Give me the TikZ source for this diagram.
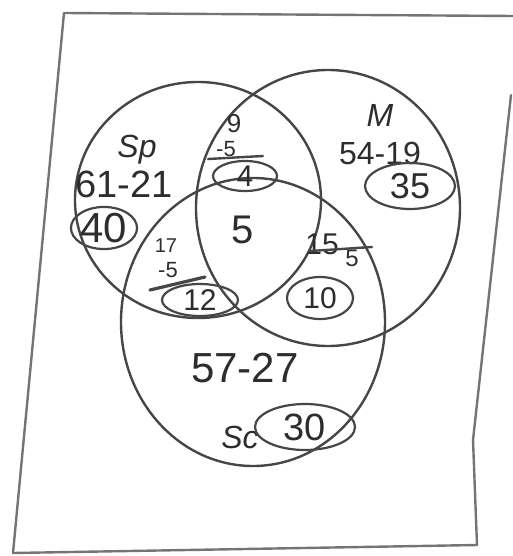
\documentclass[tikz,border=0pt]{standalone}
\usepackage{fontspec}
\setmainfont{Liberation Sans}
\usetikzlibrary{shapes.geometric}
\definecolor{pencil}{RGB}{70,70,70}
\definecolor{lead}{RGB}{45,45,45}
\begin{document}
\begin{tikzpicture}[x=1pt,y=-1pt,
  stroke/.style={draw=pencil, line width=2.4pt, line cap=round, line join=round},
  setring/.style={stroke, ellipse, inner sep=0pt},
  ring/.style={stroke, ellipse, inner sep=0pt, line width=2.2pt, text=lead},
  lbl/.style={text=lead, inner sep=0pt}]
\useasboundingbox (0,0) rectangle (513,556);
% frame
\coordinate (f1) at (64,13);
\coordinate (f2) at (513,16);
\coordinate (f3) at (511,95);
\coordinate (f4) at (473,440);
\coordinate (f5) at (477,545);
\coordinate (f6) at (13,553);
\draw[stroke, draw=pencil!75] (f3) -- (f4) -- (f5) -- (f6) -- (f1) -- (f2);
% sets
\node[setring, minimum width=246pt, minimum height=236pt] (sp) at (198,200) {};
\node[setring, minimum width=264pt, minimum height=276pt] (m) at (328,208) {};
\node[setring, minimum width=264pt, minimum height=288pt] (sc) at (253,322) {};
% Sp only
\node[lbl, font=\fontsize{32}{32}\selectfont\itshape] (spl) at (137,150) {Sp};
\node[lbl, font=\fontsize{38}{38}\selectfont] (spx) at (124,184) {61-21};
\node[ring, minimum width=58pt, minimum height=42pt, font=\fontsize{42}{42}\selectfont] (n40) at (104,228) {40};
% Sp and M
\node[lbl, font=\fontsize{26}{26}\selectfont] (n9) at (234,124) {9};
\node[lbl, font=\fontsize{22}{22}\selectfont] (m5a) at (226,149) {-5};
\coordinate (b1a) at (208,159);
\coordinate (b1b) at (263,156);
\draw[stroke] (b1a) -- (b1b);
\node[ring, minimum width=64pt, minimum height=30pt, font=\fontsize{30}{30}\selectfont] (n4) at (245,176) {4};
% all three
\node[lbl, font=\fontsize{40}{40}\selectfont] (n5) at (243,230) {5};
% M only
\node[lbl, font=\fontsize{32}{32}\selectfont\itshape] (ml) at (380,115) {M};
\node[lbl, font=\fontsize{32}{32}\selectfont] (mx) at (380,153) {54-19};
\node[ring, minimum width=90pt, minimum height=46pt, font=\fontsize{36}{36}\selectfont] (n35) at (410,186) {35};
% Sp and Sc
\node[lbl, font=\fontsize{20}{20}\selectfont] (n17) at (166,246) {17};
\node[lbl, font=\fontsize{22}{22}\selectfont] (m5b) at (168,270) {-5};
\coordinate (b2a) at (150,290);
\coordinate (b2b) at (205,277);
\draw[stroke, line width=3.2pt] (b2a) -- (b2b);
\node[ring, minimum width=76pt, minimum height=32pt, font=\fontsize{30}{30}\selectfont] (n12) at (200,300) {12};
% M and Sc
\node[lbl, font=\fontsize{30}{30}\selectfont] (n15) at (322,244) {15};
\node[lbl, font=\fontsize{24}{24}\selectfont] (m5c) at (352,258) {5};
\coordinate (b3a) at (310,251);
\coordinate (b3b) at (372,247);
\draw[stroke] (b3a) -- (b3b);
\node[ring, minimum width=66pt, minimum height=42pt, font=\fontsize{30}{30}\selectfont] (n10) at (320,298) {10};
% Sc only
\node[lbl, font=\fontsize{42}{42}\selectfont] (scx) at (245,368) {57-27};
\node[lbl, font=\fontsize{32}{32}\selectfont\itshape] (scl) at (240,437) {Sc};
\node[ring, minimum width=100pt, minimum height=46pt, font=\fontsize{38}{38}\selectfont] (n30) at (305,427) {30};
\end{tikzpicture}
\end{document}
